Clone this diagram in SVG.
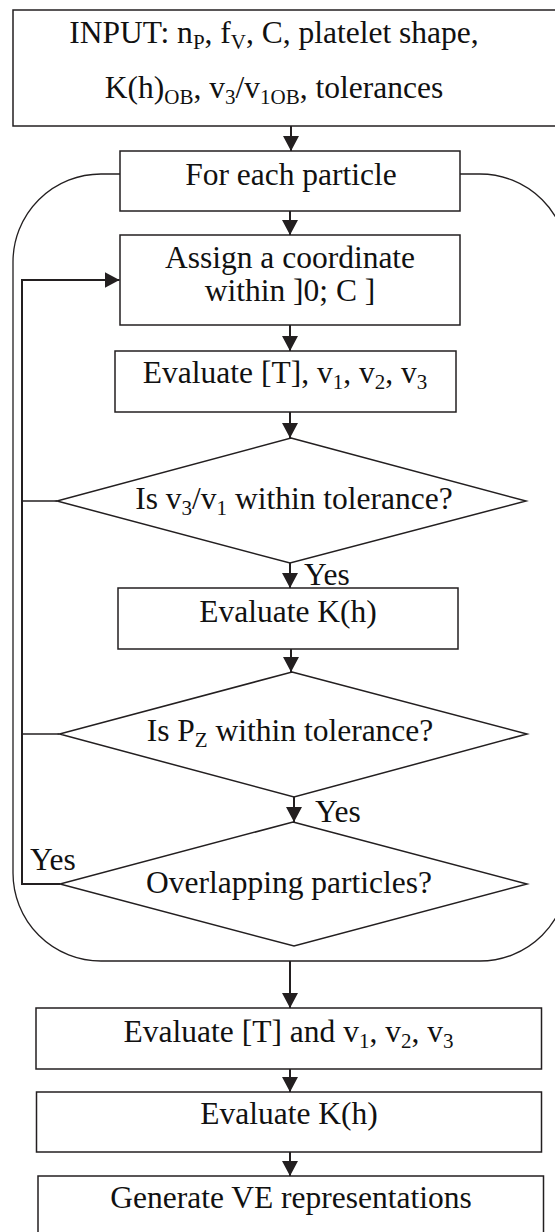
<svg xmlns="http://www.w3.org/2000/svg" width="555" height="1232" viewBox="0 0 555 1232">
  <style>
    .box { fill: #ffffff; stroke: #231f20; stroke-width: 1.5; }
    .dia { fill: #ffffff; stroke: #231f20; stroke-width: 1.5; }
    .frame { fill: none; stroke: #231f20; stroke-width: 1.3; }
    .link { fill: none; stroke: #231f20; stroke-width: 2; }
    .thin { fill: none; stroke: #231f20; stroke-width: 1.3; }
    text { font-family: "Liberation Serif", "Times New Roman", serif; font-size: 31.5px; fill: #111111; text-anchor: middle; }
    .lbl { text-anchor: start; }
    .sub { font-size: 21px; }
  </style>
  <defs>
    <marker id="head" markerUnits="userSpaceOnUse" markerWidth="16" markerHeight="16" refX="15" refY="8" orient="auto">
      <path d="M0,0 L15,8 L0,16 z" fill="#231f20"/>
    </marker>
  </defs>

  <rect width="555" height="1232" fill="#ffffff"/>

  <!-- rounded frame around the per-particle loop -->
  <rect id="loop-frame" class="frame" x="13" y="174" width="555" height="787" rx="88" ry="88"/>

  <g id="connectors">
    <line class="link" x1="291" y1="126" x2="291" y2="151" marker-end="url(#head)"/>
    <line class="link" x1="290" y1="211" x2="290" y2="235" marker-end="url(#head)"/>
    <line class="link" x1="290" y1="325" x2="290" y2="351" marker-end="url(#head)"/>
    <line class="link" x1="290" y1="412" x2="290" y2="438" marker-end="url(#head)"/>
    <line class="link" x1="290" y1="563" x2="290" y2="588" marker-end="url(#head)"/>
    <line class="link" x1="291" y1="649" x2="291" y2="672" marker-end="url(#head)"/>
    <line class="link" x1="294" y1="797" x2="294" y2="822" marker-end="url(#head)"/>
    <line class="link" x1="290" y1="961" x2="290" y2="1008" marker-end="url(#head)"/>
    <line class="link" x1="290" y1="1069" x2="290" y2="1092" marker-end="url(#head)"/>
    <line class="link" x1="290" y1="1152" x2="290" y2="1176" marker-end="url(#head)"/>
    <!-- loop back from the checks to the coordinate assignment -->
    <path class="link" d="M60,884 H22 V280 H119.5" marker-end="url(#head)"/>
    <line class="thin" x1="57" y1="501" x2="22" y2="501"/>
    <line class="thin" x1="59.5" y1="734" x2="22" y2="734"/>
    <text class="lbl" x="304" y="585">Yes</text>
    <text class="lbl" x="315" y="822">Yes</text>
    <text class="lbl" x="30" y="870">Yes</text>
  </g>

  <g id="input">
    <rect class="box" x="13" y="10" width="546" height="116"/>
    <text x="274" y="43">INPUT: n<tspan class="sub" dy="6">P</tspan><tspan dy="-6">, f</tspan><tspan class="sub" dy="6">V</tspan><tspan dy="-6">, C, platelet shape,</tspan></text>
    <text x="274" y="98">K(h)<tspan class="sub" dy="6">OB</tspan><tspan dy="-6">, v</tspan><tspan class="sub" dy="6">3</tspan><tspan dy="-6">/v</tspan><tspan class="sub" dy="6">1OB</tspan><tspan dy="-6">, tolerances</tspan></text>
  </g>

  <g id="each-particle">
    <rect class="box" x="120" y="151" width="340" height="60"/>
    <text x="291" y="185">For each particle</text>
  </g>

  <g id="assign">
    <rect class="box" x="120" y="235" width="340" height="90"/>
    <text x="290" y="268">Assign a coordinate</text>
    <text x="290" y="301">within ]0; C ]</text>
  </g>

  <g id="eval-t">
    <rect class="box" x="115" y="351" width="341" height="61"/>
    <text x="285" y="383">Evaluate [T], v<tspan class="sub" dy="6">1</tspan><tspan dy="-6">, v</tspan><tspan class="sub" dy="6">2</tspan><tspan dy="-6">, v</tspan><tspan class="sub" dy="6">3</tspan></text>
  </g>

  <g id="check-ratio">
    <polygon class="dia" points="291,438 526,501 290,563 57,501"/>
    <text x="294" y="509">Is v<tspan class="sub" dy="6">3</tspan><tspan dy="-6">/v</tspan><tspan class="sub" dy="6">1</tspan><tspan dy="-6"> within tolerance?</tspan></text>
  </g>

  <g id="eval-k">
    <rect class="box" x="118" y="588" width="340" height="61"/>
    <text x="288" y="622">Evaluate K(h)</text>
  </g>

  <g id="check-pz">
    <polygon class="dia" points="292,672 527,734 294,797 59.5,734"/>
    <text x="290" y="741">Is P<tspan class="sub" dy="6">Z</tspan><tspan dy="-6"> within tolerance?</tspan></text>
  </g>

  <g id="check-overlap">
    <polygon class="dia" points="293,822 527,884 294,946 60,884"/>
    <text x="289" y="893">Overlapping particles?</text>
  </g>

  <g id="eval-t-final">
    <rect class="box" x="36" y="1008" width="505.5" height="61"/>
    <text x="288.5" y="1042">Evaluate [T] and v<tspan class="sub" dy="6">1</tspan><tspan dy="-6">, v</tspan><tspan class="sub" dy="6">2</tspan><tspan dy="-6">, v</tspan><tspan class="sub" dy="6">3</tspan></text>
  </g>

  <g id="eval-k-final">
    <rect class="box" x="36.5" y="1092" width="505" height="60"/>
    <text x="289" y="1124">Evaluate K(h)</text>
  </g>

  <g id="generate">
    <rect class="box" x="38" y="1176" width="505.5" height="70"/>
    <text x="291" y="1208">Generate VE representations</text>
  </g>
</svg>
